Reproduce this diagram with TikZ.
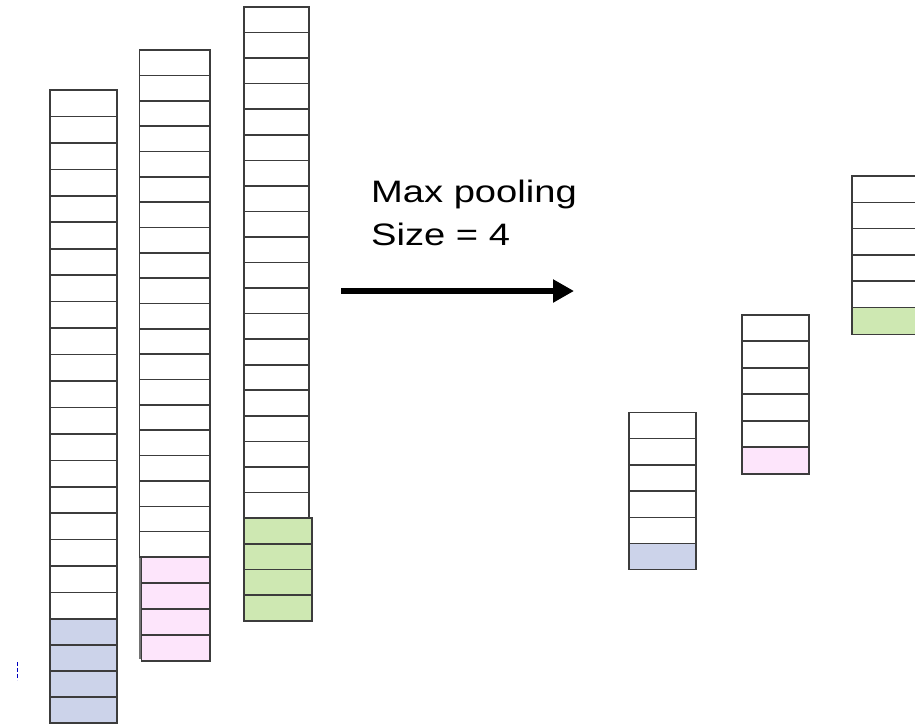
\documentclass[tikz,border=0pt]{standalone}
\usepackage{fontspec}
\setmainfont{Liberation Sans}
\usetikzlibrary{arrows.meta}
\definecolor{cblue}{RGB}{204,211,234}
\definecolor{cpink}{RGB}{253,229,251}
\definecolor{cgreen}{RGB}{206,232,178}
\definecolor{edgegrey}{RGB}{60,60,60}
\tikzset{
  cellbox/.style={draw=edgegrey, line width=1.6pt},
  bigtext/.style={anchor=base west, inner sep=0pt, font=\fontsize{31}{36}\selectfont},
  pooltip/.style={line width=6pt, -{Triangle[length=21pt,width=22pt]}},
}
% #1 x0, #2 x1, #3 top, #4 cell height, #5 white cells, #6 colour, #7 coloured cells, #8 coloured cell height
\newcommand\cellstack[8]{%
  \foreach \k in {1,...,#5} {\draw[cellbox] (#1,{#3+(\k-1)*#4}) rectangle (#2,{#3+\k*#4});}
  \foreach \k in {1,...,#7} {\draw[cellbox,fill=#6] (#1,{#3+#5*#4+(\k-1)*#8}) rectangle (#2,{#3+#5*#4+\k*#8});}
}
\begin{document}
\begin{tikzpicture}[x=1pt,y=-1pt]
\useasboundingbox (0,0) rectangle (915,723);
\clip (0,0) rectangle (915,723);
\fill[white] (0,0) rectangle (915,723);

% input columns
\cellstack{50}{117}{90}{26.45}{20}{cblue}{4}{26}
\fill[black!55] (139,557) rectangle (142,659);
\foreach \k in {1,...,20} {\draw[cellbox] (139.5,{50+(\k-1)*25.35}) rectangle (210,{50+\k*25.35});}
\foreach \k in {1,...,4} {\draw[cellbox,fill=cpink] (141.5,{557+(\k-1)*26}) rectangle (210,{557+\k*26});}
\foreach \k in {1,...,20} {\draw[cellbox] (244,{7+(\k-1)*25.55}) rectangle (309,{7+\k*25.55});}
\foreach \k in {1,...,4} {\draw[cellbox,fill=cgreen] (244,{518+(\k-1)*25.75}) rectangle (312,{518+\k*25.75});}

% output columns
\cellstack{629}{696}{412.3}{26.25}{5}{cblue}{1}{26}
\cellstack{742}{809}{314.7}{26.5}{5}{cpink}{1}{27}
\cellstack{852}{919}{176}{26.3}{5}{cgreen}{1}{27}

% label and arrow
\node[bigtext] (lab1) at (371,202) {\scalebox{1.23}[1]{Max pooling}};
\node[bigtext] (lab2) at (371,245) {\scalebox{1.23}[1]{Size = 4}};
\coordinate (arrS) at (341,291);
\coordinate (arrE) at (574,291);
\draw[pooltip] (arrS) -- (arrE);

% small blue mark
\coordinate (m1) at (17.7,662);
\coordinate (m2) at (17.7,680);
\draw[blue!75!black, line width=1.5pt, dash pattern=on 4pt off 2pt] (m1) -- (m2);
\end{tikzpicture}
\end{document}
